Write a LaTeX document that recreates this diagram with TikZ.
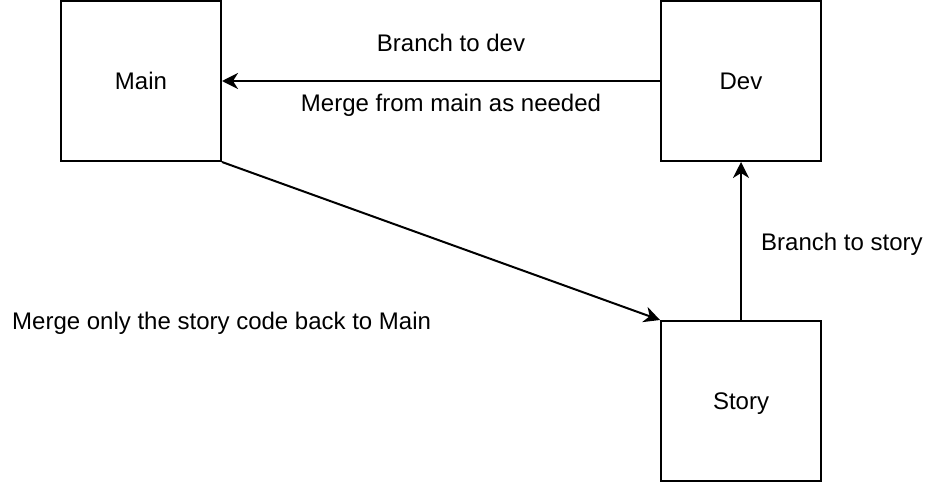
\documentclass[tikz,border=0pt]{standalone}
\usepackage{fontspec}
\setmainfont{Liberation Sans}
\usetikzlibrary{arrows.meta}
\begin{document}
\begin{tikzpicture}[x=1pt,y=-1pt,
  font=\fontsize{24}{28}\selectfont,
  box/.style={draw=black, line width=2pt, minimum width=160pt, minimum height=160pt, inner sep=0pt, text height=17pt, text depth=0pt},
  conn/.style={draw=black, line width=2pt, -{Stealth[length=16pt,width=16pt,inset=5pt]}},
  lbl/.style={inner sep=0pt}]
\useasboundingbox (0,0) rectangle (942,482);
\node[box] (main) at (141,81) {Main};
\node[box] (dev) at (741,81) {Dev};
\node[box] (story) at (741,401) {Story};
\draw[conn] (dev.west) -- (main.east);
\draw[conn] (main.south east) -- (story.north west);
\draw[conn] (story.north) -- (dev.south);
\node[lbl, anchor=base] (l1) at (451,51) {Branch to dev};
\node[lbl, anchor=base] (l2) at (451,111) {Merge from main as needed};
\node[lbl, anchor=base west] (l3) at (761,250) {Branch to story};
\node[lbl, anchor=base west] (l4) at (12,329) {Merge only the story code back to Main};
\end{tikzpicture}
\end{document}
